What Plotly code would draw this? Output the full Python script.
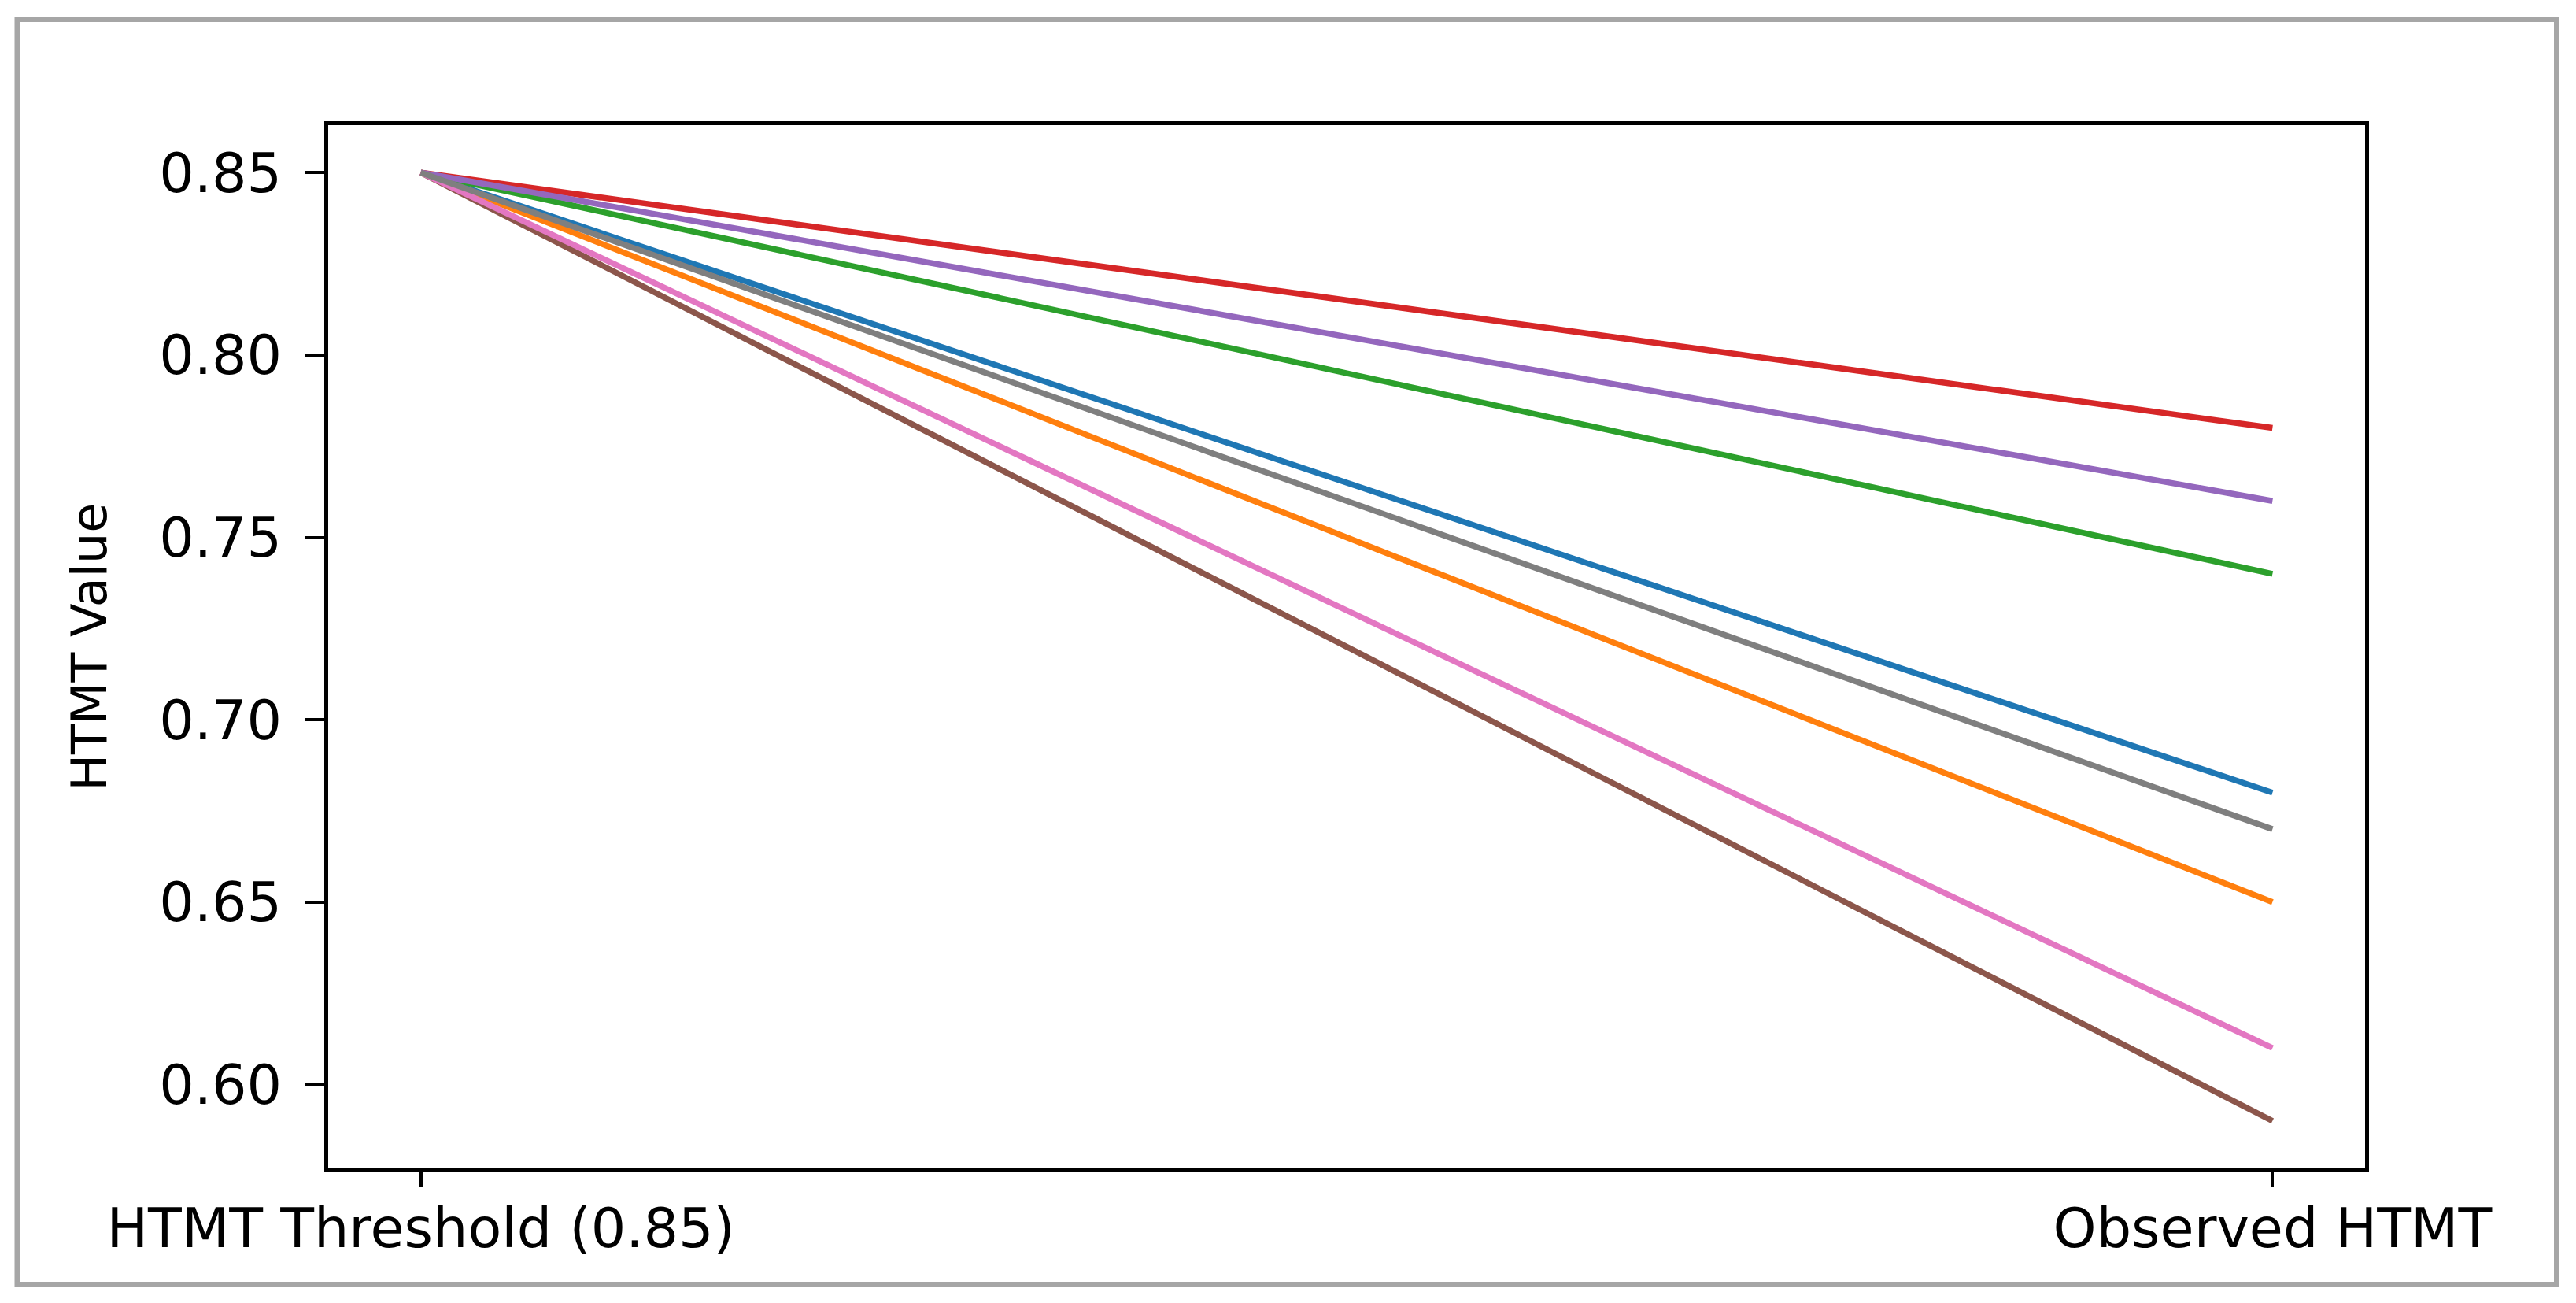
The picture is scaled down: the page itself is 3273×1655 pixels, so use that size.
import plotly.graph_objects as go

# ---- data ----
categories = ["HTMT Threshold (0.85)", "Observed HTMT"]
threshold = 0.85
observed = [0.68, 0.65, 0.74, 0.78, 0.76, 0.59, 0.61, 0.67]
colors = ["#1f77b4", "#ff7f0e", "#2ca02c", "#d62728",
          "#9467bd", "#8c564b", "#e377c2", "#7f7f7f"]
y_ticks = [0.60, 0.65, 0.70, 0.75, 0.80, 0.85]

# ---- layout geometry (pixels, in page coords; body has 8px margin) ----
OFF = 8
W, H = 3273 - 2 * OFF, 1655 - 2 * OFF
PL, PR, PT, PB = 417 - OFF, 3005 - OFF, 159 - OFF, 1484 - OFF  # plot area
FONT = "DejaVu Sans"

fig = go.Figure()
for v, c in zip(observed, colors):
    fig.add_trace(go.Scatter(
        x=categories, y=[threshold, v], mode="lines",
        line=dict(color=c, width=7.5), showlegend=False, hoverinfo="skip"))

pw, ph = PR - PL, PB - PT

def px_x(p):
    return (p - OFF - PL) / pw

def px_y(p):
    return (PB - (p - OFF)) / ph

# outer gray frame
fig.add_shape(type="rect", xref="paper", yref="paper",
              x0=px_x(22), x1=px_x(3248.5), y0=px_y(1631.5), y1=px_y(24.5),
              line=dict(color="#a6a6a6", width=7), layer="below")

# y-axis title
fig.add_annotation(text="HTMT Value", xref="paper", yref="paper",
                   x=px_x(113), y=0.5, xanchor="center", yanchor="middle",
                   textangle=-90, showarrow=False,
                   font=dict(family=FONT, size=62, color="black"))

fig.update_layout(
    width=W, height=H,
    margin=dict(l=PL, r=W - PR, t=PT, b=H - PB, pad=0),
    paper_bgcolor="white", plot_bgcolor="white",
    font=dict(family=FONT, color="black", size=68),
    showlegend=False,
)
fig.update_xaxes(
    type="category", range=[-0.05, 1.05],
    showline=True, linecolor="black", linewidth=5, mirror=True,
    showgrid=False, zeroline=False,
    ticks="outside", ticklen=19, tickwidth=4, tickcolor="black",
    ticklabelstandoff=-8,
    tickfont=dict(family=FONT, size=70, color="black"),
)
fig.update_yaxes(
    range=[0.577, 0.863], tickvals=y_ticks, tickformat=".2f",
    showline=True, linecolor="black", linewidth=5, mirror=True,
    showgrid=False, zeroline=False,
    ticks="outside", ticklen=24, tickwidth=4, tickcolor="black",
    ticklabelstandoff=16,
    tickfont=dict(family=FONT, size=70, color="black"),
)

fig.write_html("out.html")
